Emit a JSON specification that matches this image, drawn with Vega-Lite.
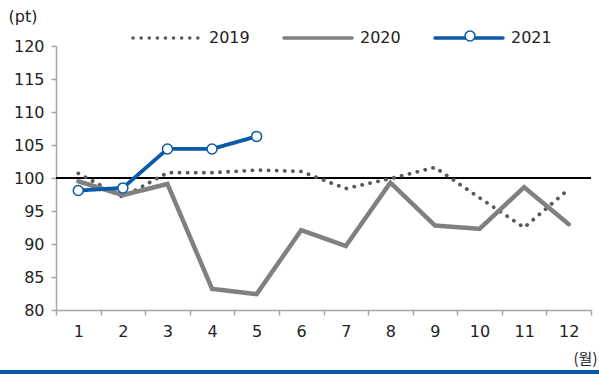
{
  "$schema": "https://vega.github.io/schema/vega-lite/v6.json",
  "autosize": {"type": "none"},
  "width": 535,
  "height": 264,
  "padding": {"left": 56, "top": 46, "right": 8, "bottom": 64},
  "background": "white",
  "config": {
    "view": {"stroke": null},
    "font": "DejaVu Sans",
    "axis": {"grid": false, "domainColor": "#a6a6a6", "domainWidth": 1.5, "tickColor": "#a6a6a6", "tickWidth": 1.5, "tickSize": 5, "labelFont": "DejaVu Sans", "labelFontSize": 16, "labelColor": "#222222", "titleFontWeight": "normal", "titleFontSize": 16, "titleColor": "#222222"},
    "axisY": {"labelOverlap": false}
  },
  "data": {"values": [
    {"month": 1, "series": "2019", "value": 100.7},
    {"month": 2, "series": "2019", "value": 97.1},
    {"month": 3, "series": "2019", "value": 100.8},
    {"month": 4, "series": "2019", "value": 100.8},
    {"month": 5, "series": "2019", "value": 101.2},
    {"month": 6, "series": "2019", "value": 101.0},
    {"month": 7, "series": "2019", "value": 98.4},
    {"month": 8, "series": "2019", "value": 99.9},
    {"month": 9, "series": "2019", "value": 101.6},
    {"month": 10, "series": "2019", "value": 97.0},
    {"month": 11, "series": "2019", "value": 92.5},
    {"month": 12, "series": "2019", "value": 98.3},
    {"month": 1, "series": "2020", "value": 99.5},
    {"month": 2, "series": "2020", "value": 97.4},
    {"month": 3, "series": "2020", "value": 99.1},
    {"month": 4, "series": "2020", "value": 83.2},
    {"month": 5, "series": "2020", "value": 82.4},
    {"month": 6, "series": "2020", "value": 92.1},
    {"month": 7, "series": "2020", "value": 89.7},
    {"month": 8, "series": "2020", "value": 99.3},
    {"month": 9, "series": "2020", "value": 92.8},
    {"month": 10, "series": "2020", "value": 92.3},
    {"month": 11, "series": "2020", "value": 98.6},
    {"month": 12, "series": "2020", "value": 93.0},
    {"month": 1, "series": "2021", "value": 98.1},
    {"month": 2, "series": "2021", "value": 98.5},
    {"month": 3, "series": "2021", "value": 104.4},
    {"month": 4, "series": "2021", "value": 104.4},
    {"month": 5, "series": "2021", "value": 106.3}
  ]},
  "resolve": {"scale": {"x": "independent", "y": "independent"}, "axis": {"x": "independent", "y": "independent"}},
  "layer": [
    {
      "encoding": {
        "x": {"field": "month", "type": "ordinal", "scale": {"type": "band", "paddingInner": 0, "paddingOuter": 0},
          "axis": {"labelAngle": 0, "tickBand": "extent", "labelPadding": 8, "title": "(월)", "titleFont": "Noto Sans CJK KR", "titleFontSize": 15, "titleAnchor": "end", "titleAlign": "right", "titleX": 541, "titleY": 48, "titleBaseline": "middle"}},
        "y": {"field": "value", "type": "quantitative", "scale": {"domain": [80, 120], "nice": false, "zero": false},
          "axis": {"values": [80, 85, 90, 95, 100, 105, 110, 115, 120], "labelOverlap": false, "labelPadding": 7, "title": "(pt)", "titleAngle": 0, "titleAlign": "left", "titleBaseline": "middle", "titleX": -48, "titleY": -30}}
      },
      "layer": [
        {
          "mark": {"type": "rule", "color": "#000000", "strokeWidth": 1},
          "encoding": {
            "x": null,
            "y": {"datum": 100, "type": "quantitative"}
          }
        },
        {
          "mark": {"type": "line", "strokeCap": "round"},
          "encoding": {
            "color": {"field": "series", "type": "nominal",
              "scale": {"domain": ["2019", "2020", "2021"], "range": ["#595959", "#808080", "#0b5aa8"]},
              "legend": {"title": null, "orient": "none", "legendX": 75, "legendY": -44, "direction": "horizontal",
                "symbolType": "stroke", "symbolSize": 4624, "symbolStrokeWidth": 3.5, "labelOffset": 6, "columnPadding": 27,
                "labelFontSize": 16, "labelFont": "DejaVu Sans", "labelColor": "#222222",
                "encode": {"symbols": {"update": {
                  "strokeCap": {"value": "round"},
                  "strokeWidth": {"value": 3.5}
                }}}}},
            "strokeDash": {"field": "series", "type": "nominal",
              "scale": {"domain": ["2019", "2020", "2021"], "range": [[0.1, 8], [1, 0], [1, 0]]}},
            "strokeWidth": {"condition": {"test": "datum.series === '2020'", "value": 4.5}, "value": 3.8}
          }
        },
        {
          "transform": [{"filter": "datum.series === '2021'"}],
          "mark": {"type": "point", "shape": "circle", "filled": false, "fill": "white", "fillOpacity": 1, "strokeWidth": 1.5, "size": 100, "opacity": 1},
          "encoding": {
            "stroke": {"field": "series", "type": "nominal", "scale": {"domain": ["2021"], "range": ["#0b5aa8"]},
              "legend": {"title": null, "orient": "none", "legendX": 406, "legendY": -18, "labelExpr": "''",
                "symbolType": "circle", "symbolSize": 100, "symbolStrokeWidth": 1.5, "symbolFillColor": "white", "labelOffset": 0, "labelFontSize": 16,
                "encode": {"symbols": {"update": {"fill": {"value": "white"}, "fillOpacity": {"value": 1}, "opacity": {"value": 1}, "strokeWidth": {"value": 1.5}}}}}}
          }
        }
      ]
    },
    {
      "mark": {"type": "rule", "color": "#0d5aa7", "strokeWidth": 4},
      "encoding": {
        "x": {"datum": -0.1047, "type": "quantitative", "scale": {"domain": [0, 1], "nice": false, "zero": false}, "axis": null},
        "x2": {"datum": 1.0150},
        "y": {"datum": -0.235, "type": "quantitative", "scale": {"domain": [0, 1], "nice": false, "zero": false}, "axis": null}
      }
    }
  ]
}
